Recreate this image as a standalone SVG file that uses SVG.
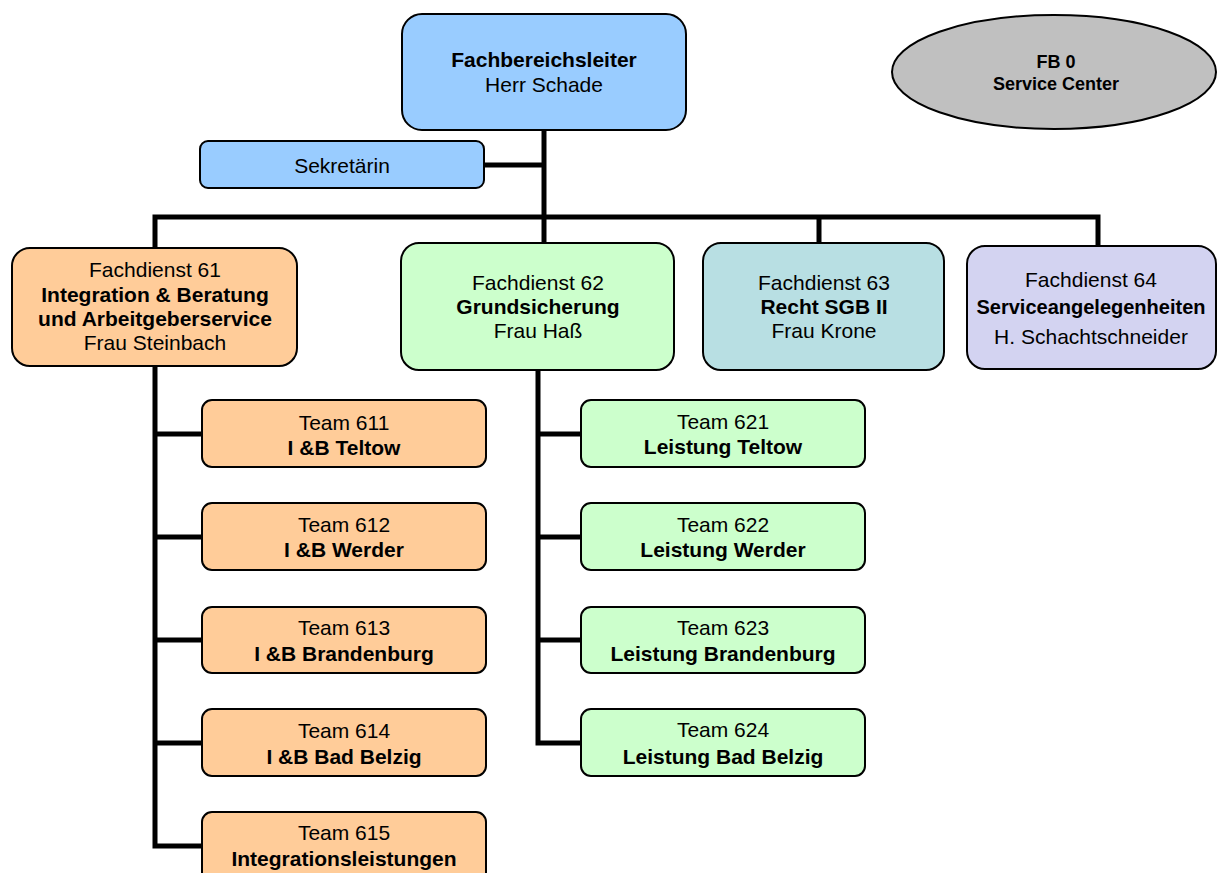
<svg xmlns="http://www.w3.org/2000/svg" width="1217" height="873" viewBox="0 0 1217 873">
<style>
text{font-family:"Liberation Sans",Arial,sans-serif;font-size:21px;text-anchor:middle;fill:#000}
.b{font-weight:bold}
.box{stroke:#000;stroke-width:2}
.blue{fill:#99ccff}
.orange{fill:#ffcc99}
.green{fill:#ccffcc}
.teal{fill:#b8dfe3}
.lav{fill:#d3d3f1}
.con{fill:none;stroke:#000;stroke-width:5}
</style>
<rect width="1217" height="873" fill="#fff"/>
<g id="connectors">
<path class="con" d="M544 130V243"/>
<path class="con" d="M484 165H544"/>
<path class="con" d="M155 248V217H1098V246M819 217V243"/>
<path class="con" d="M155 366V846H202M155 434H202M155 537H202M155 640H202M155 743H202"/>
<path class="con" d="M538 370V743H581M538 434H581M538 537H581M538 640H581"/>
</g>
<g id="fachbereichsleiter">
<rect class="box blue" x="402" y="14" width="284" height="116" rx="20"/>
<text class="b" x="544" y="67">Fachbereichsleiter</text>
<text x="544" y="92">Herr Schade</text>
</g>
<g id="fb0">
<ellipse cx="1054" cy="72" rx="162" ry="57" fill="#c0c0c0" stroke="#000" stroke-width="2"/>
<text class="b" x="1056" y="68" style="font-size:18px">FB 0</text>
<text class="b" x="1056" y="90" style="font-size:18px">Service Center</text>
</g>
<g id="sekretaerin">
<rect class="box blue" x="200" y="141" width="284" height="47" rx="8"/>
<text x="342" y="173">Sekretärin</text>
</g>
<g id="fd61">
<rect class="box orange" x="12" y="248" width="285" height="118" rx="18"/>
<text x="155" y="277">Fachdienst 61</text>
<text class="b" x="155" y="302">Integration &amp; Beratung</text>
<text class="b" x="155" y="326">und Arbeitgeberservice</text>
<text x="155" y="350">Frau Steinbach</text>
</g>
<g id="fd62">
<rect class="box green" x="401" y="243" width="273" height="127" rx="18"/>
<text x="538" y="290">Fachdienst 62</text>
<text class="b" x="538" y="314">Grundsicherung</text>
<text x="538" y="338">Frau Haß</text>
</g>
<g id="fd63">
<rect class="box teal" x="703" y="243" width="241" height="127" rx="18"/>
<text x="824" y="290">Fachdienst 63</text>
<text class="b" x="824" y="314">Recht SGB II</text>
<text x="824" y="338">Frau Krone</text>
</g>
<g id="fd64">
<rect class="box lav" x="967" y="246" width="249" height="123" rx="18"/>
<text x="1091" y="287">Fachdienst 64</text>
<text class="b" x="1091" y="314" style="font-size:20px">Serviceangelegenheiten</text>
<text x="1091" y="344">H. Schachtschneider</text>
</g>
<g id="team611">
<rect class="box orange" x="202" y="400" width="284" height="67" rx="10"/>
<text x="344" y="430">Team 611</text>
<text class="b" x="344" y="455">I &amp;B Teltow</text>
</g>
<g id="team612">
<rect class="box orange" x="202" y="503" width="284" height="67" rx="10"/>
<text x="344" y="532">Team 612</text>
<text class="b" x="344" y="557">I &amp;B Werder</text>
</g>
<g id="team613">
<rect class="box orange" x="202" y="607" width="284" height="66" rx="10"/>
<text x="344" y="635">Team 613</text>
<text class="b" x="344" y="661">I &amp;B Brandenburg</text>
</g>
<g id="team614">
<rect class="box orange" x="202" y="709" width="284" height="67" rx="10"/>
<text x="344" y="738">Team 614</text>
<text class="b" x="344" y="764">I &amp;B Bad Belzig</text>
</g>
<g id="team615">
<rect class="box orange" x="202" y="812" width="284" height="80" rx="10"/>
<text x="344" y="840">Team 615</text>
<text class="b" x="344" y="866">Integrationsleistungen</text>
</g>
<g id="team621">
<rect class="box green" x="581" y="400" width="284" height="67" rx="10"/>
<text x="723" y="429">Team 621</text>
<text class="b" x="723" y="454">Leistung Teltow</text>
</g>
<g id="team622">
<rect class="box green" x="581" y="503" width="284" height="67" rx="10"/>
<text x="723" y="532">Team 622</text>
<text class="b" x="723" y="557">Leistung Werder</text>
</g>
<g id="team623">
<rect class="box green" x="581" y="607" width="284" height="66" rx="10"/>
<text x="723" y="635">Team 623</text>
<text class="b" x="723" y="661">Leistung Brandenburg</text>
</g>
<g id="team624">
<rect class="box green" x="581" y="709" width="284" height="67" rx="10"/>
<text x="723" y="737">Team 624</text>
<text class="b" x="723" y="764">Leistung Bad Belzig</text>
</g>
</svg>
